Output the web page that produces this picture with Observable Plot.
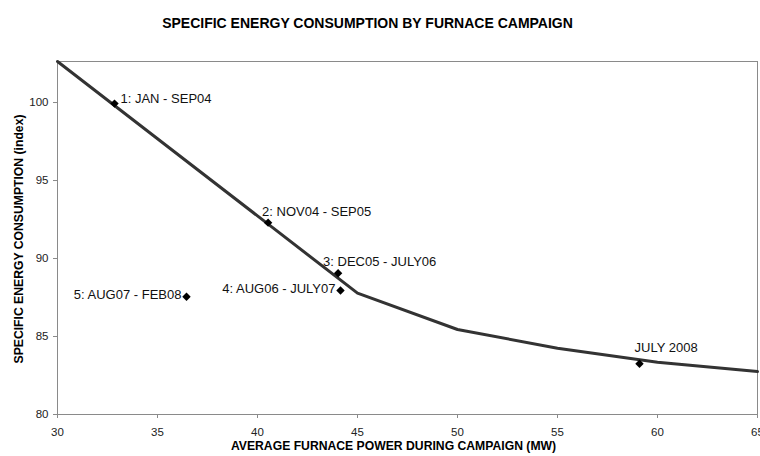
<!DOCTYPE html>
<html>
<head>
<meta charset="utf-8">
<script src="https://cdn.jsdelivr.net/npm/d3@7"></script>
<script src="https://cdn.jsdelivr.net/npm/@observablehq/plot@0.6"></script>
<style>
  html, body { margin: 0; padding: 0; background: #fff; }
</style>
</head>
<body>
<div id="chart"></div>
<script>
// Campaign points
const campaigns = ["1: JAN - SEP04", "2: NOV04 - SEP05", "3: DEC05 - JULY06", "4: AUG06 - JULY07", "5: AUG07 - FEB08", "JULY 2008"];
const campaignPower = [32.85, 40.53, 44.03, 44.15, 36.45, 59.1];
const campaignSEC = [99.93, 92.3, 89.05, 87.95, 87.55, 83.25];

// Trend curve
const curvePower = [30, 35, 40, 45, 50, 55, 60, 65];
const curveSEC = [102.63, 97.68, 92.73, 87.78, 85.45, 84.25, 83.35, 82.75];

const xTicks = [30, 35, 40, 45, 50, 55, 60, 65];
const yTicks = [80, 85, 90, 95, 100];

const title = "SPECIFIC ENERGY CONSUMPTION BY FURNACE CAMPAIGN";
const xTitle = "AVERAGE FURNACE POWER DURING CAMPAIGN (MW)";
const yTitle = "SPECIFIC ENERGY CONSUMPTION (index)";

const points = campaigns.map((name, i) => ({name, x: campaignPower[i], y: campaignSEC[i]}));
const curve = curvePower.map((x, i) => ({x, y: curveSEC[i]}));

const byName = (names) => points.filter(d => names.includes(d.name));
const font = "Liberation Sans, Arial, Helvetica, sans-serif";

const chart = Plot.plot({
  width: 760,
  height: 456,
  marginLeft: 57,
  marginRight: 3,
  marginTop: 61,
  marginBottom: 42,
  style: {fontFamily: font, fontSize: "11px", color: "#222", background: "#fff"},
  x: {domain: [30, 65]},
  y: {domain: [80, 102.63]},
  marks: [
    Plot.frame({stroke: "#8a8a8a", strokeWidth: 1}),
    Plot.axisX({ticks: xTicks, tickSize: 4, tickPadding: 9, stroke: "#8a8a8a", fill: "#222", fontSize: 11.5, label: null, tickFormat: d => String(d)}),
    Plot.axisY({ticks: yTicks, tickSize: 4, tickPadding: 5, stroke: "#8a8a8a", fill: "#222", fontSize: 11.5, label: null, tickFormat: d => String(d)}),
    Plot.line(curve, {x: "x", y: "y", stroke: "#333", strokeWidth: 3, strokeLinejoin: "round"}),
    Plot.dot(points, {x: "x", y: "y", symbol: "diamond2", r: 3.8, fill: "#000", stroke: "none"}),
    Plot.text(byName(["1: JAN - SEP04"]), {x: "x", y: "y", text: "name", textAnchor: "start", dx: 6, dy: -5, fontSize: 13, fill: "#111"}),
    Plot.text(byName(["2: NOV04 - SEP05"]), {x: "x", y: "y", text: "name", textAnchor: "start", dx: -6, dy: -11, fontSize: 13, fill: "#111"}),
    Plot.text(byName(["3: DEC05 - JULY06"]), {x: "x", y: "y", text: "name", textAnchor: "start", dx: -15, dy: -12, fontSize: 13, fill: "#111"}),
    Plot.text(byName(["4: AUG06 - JULY07", "5: AUG07 - FEB08"]), {x: "x", y: "y", text: "name", textAnchor: "end", dx: -5, dy: -1.5, fontSize: 13, fill: "#111"}),
    Plot.text(byName(["JULY 2008"]), {x: "x", y: "y", text: "name", textAnchor: "start", dx: -5, dy: -16, fontSize: 13, fill: "#111"}),
    Plot.text([title], {frameAnchor: "top", textAnchor: "middle", text: d => d, dx: -40, dy: -43, fontSize: 14, fontWeight: "bold", fill: "#000"}),
    Plot.text([xTitle], {frameAnchor: "bottom", textAnchor: "middle", text: d => d, dx: -14, dy: 35, fontSize: 12.2, fontWeight: "bold", fill: "#000"}),
    Plot.text([yTitle], {frameAnchor: "left", textAnchor: "middle", text: d => d, rotate: -90, dx: -38, dy: 1, fontSize: 12.2, fontWeight: "bold", fill: "#000"})
  ]
});
document.getElementById("chart").appendChild(chart);
</script>
</body>
</html>
